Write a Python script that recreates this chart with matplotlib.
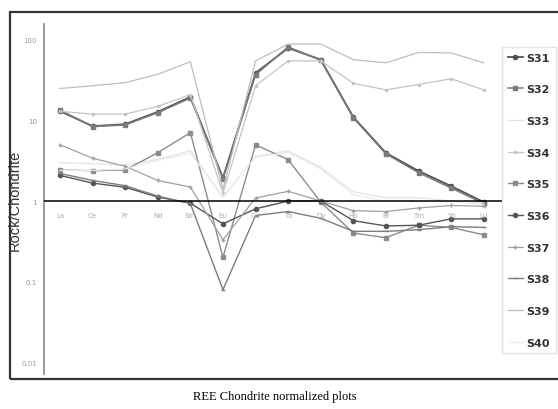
import matplotlib
matplotlib.use('Agg')
import matplotlib.pyplot as plt
from matplotlib.patches import Rectangle
import numpy as np

# REE elements and normalized values
elements = ['La', 'Ce', 'Pr', 'Nd', 'Sm', 'Eu', 'Gd', 'Tb', 'Dy', 'Ho', 'Er', 'Tm', 'Yb', 'Lu']
samples = ['S31', 'S32', 'S33', 'S34', 'S35', 'S36', 'S37', 'S38', 'S39', 'S40']

S31 = [13.1, 8.5, 9.0, 12.8, 19.6, 1.93, 38.9, 79.5, 57, 11.0, 3.95, 2.36, 1.53, 0.97]
S32 = [13.5, 8.4, 8.8, 12.5, 19.0, 1.9, 37, 82, 56, 10.8, 3.85, 2.25, 1.45, 0.93]
S33 = [3.0, 2.9, 2.8, 3.3, 4.2, 1.1, 3.6, 4.2, 2.6, 1.3, 1.1, 1.1, 1.0, 0.95]
S34 = [13.0, 12.0, 12.0, 15.0, 21.0, 1.25, 27, 55, 55, 29, 24, 28, 33, 24]
S35 = [2.43, 2.38, 2.43, 3.98, 7.07, 0.20, 5.0, 3.26, 0.97, 0.40, 0.35, 0.50, 0.47, 0.38]
S36 = [2.08, 1.67, 1.48, 1.12, 0.94, 0.52, 0.80, 1.0, 1.0, 0.57, 0.49, 0.50, 0.60, 0.60]
S37 = [5.0, 3.4, 2.7, 1.8, 1.49, 0.33, 1.09, 1.32, 1.0, 0.76, 0.74, 0.82, 0.88, 0.86]
S38 = [2.2, 1.8, 1.55, 1.15, 0.93, 0.079, 0.66, 0.74, 0.61, 0.42, 0.42, 0.44, 0.48, 0.47]
S39 = [25, 27, 29.5, 37.5, 53.6, 1.4, 55, 89, 89, 57, 52, 70, 69, 52]
S40 = [2.4, 2.4, 2.5, 3.2, 3.9, 1.15, 3.5, 4.0, 2.5, 1.2, 1.0, 1.0, 1.0, 0.9]

data = [S31, S32, S33, S34, S35, S36, S37, S38, S39, S40]
colors = ['#505050', '#7a7a7a', '#e2e2e2', '#c4c4c4', '#8c8c8c',
          '#555555', '#a0a0a0', '#7c7c7c', '#bdbdbd', '#ececec']
markers = ['o', 's', '', '.', 's', 'o', '+', '_', '', '']
widths = [1.3, 1.1, 0.9, 0.9, 1.0, 1.0, 0.9, 1.0, 0.9, 0.9]

fig = plt.figure(figsize=(5.58, 4.10), dpi=100)
# outer frame of the figure
fig.patches.append(Rectangle((10/558, 30/410), 560/558, 367/410, transform=fig.transFigure,
                             fill=False, edgecolor='#333333', lw=1.6, zorder=0))

ax = fig.add_axes([44/558, 35/410, 458/558, 350/410])
x = np.arange(len(elements))
for name, vals, c, m, w in zip(samples, data, colors, markers, widths):
    ax.plot(x, vals, color=c, marker=m, markersize=3, lw=w, label=name)

ax.axhline(1, color='black', lw=1.1, zorder=5)
ax.set_yscale('log')
ax.set_ylim(0.0071, 158)
ax.set_xlim(-0.49, 13.56)
ax.set_xticks([])
ax.set_yticks([0.01, 0.1, 1, 10, 100])
ax.set_yticklabels(['0.01', '0.1', '1', '10', '100'], fontsize=5, color='#999999')
ax.minorticks_off()
ax.tick_params(axis='y', length=0, pad=5)
for s in ['top', 'right', 'bottom']:
    ax.spines[s].set_visible(False)
ax.spines['left'].set_color('#888888')
ax.spines['left'].set_linewidth(1.2)

for i, el in enumerate(elements):
    ax.annotate(el, (i, 1), xytext=(0, -10), textcoords='offset points',
                ha='center', va='center', fontsize=5, color='#aaaaaa')

ax.set_ylabel('Rock/Chondrite', fontsize=10.5, color='#333333', family='Liberation Sans')
ax.yaxis.set_label_coords(-0.048, 0.5)

leg = fig.legend(loc='upper left', bbox_to_anchor=(502/558, 362/410),
                 prop={'weight': 'bold', 'size': 8}, labelspacing=1.95,
                 handlelength=1.4, handletextpad=0.3, borderpad=0.5,
                 borderaxespad=0, fancybox=False, edgecolor='#dddddd')
for t in leg.get_texts():
    t.set_color('#333333')

fig.text(275/558, 13/410, 'REE Chondrite normalized plots', ha='center', va='center',
         fontsize=9, family='Liberation Serif')

fig.savefig('out.png', dpi=100)
